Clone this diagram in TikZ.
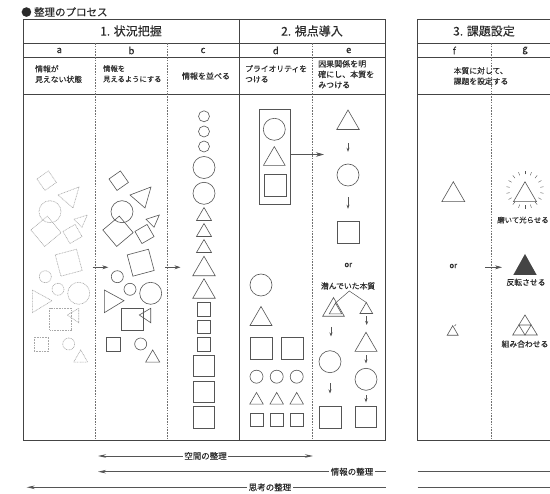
\documentclass[tikz,border=0pt]{standalone}
\usepackage{fontspec}
\setmainfont{Noto Sans CJK JP}[FakeBold=0.12]
\usetikzlibrary{arrows.meta,shapes.geometric}
\definecolor{ink}{HTML}{2A2A2A}
\definecolor{frm}{HTML}{444444}
\definecolor{shp}{HTML}{555555}
\definecolor{faint}{HTML}{A8A8A8}
\definecolor{sepc}{HTML}{707070}
\tikzset{
  tri/.pic={\draw (-0.5,0.433) -- (0.5,0.433) -- (0,-0.433) -- cycle;},
  sqr/.pic={\draw (-0.5,-0.5) rectangle (0.5,0.5);},
}
\newcommand\ShapeSet{%
  \pic[scale=14, rotate=35] at (46.7,180.7) {sqr};
  \draw (58,195) -- (79,187) -- (73,208) -- cycle;
  \draw (50,211.7) circle[radius=11];
  \pic[scale=21.5, rotate=40] at (46,231.3) {sqr};
  \draw (74,219.3) -- (87.3,215) -- (82,227.3) -- cycle;
  \pic[scale=14, rotate=30] at (72.5,234) {sqr};
  \pic[scale=22, rotate=15] at (68.7,262.7) {sqr};
  \draw (45.3,276.7) circle[radius=6];
  \draw (58,289.3) circle[radius=6];
  \draw (78.7,293.3) circle[radius=11];
  \draw (32.3,290) -- (32.3,312.7) -- (52,300.7) -- cycle;
  \pic[scale=21.7] at (60.5,319) {sqr};
  \draw (78.7,308.3) -- (78.7,322.7) -- (67.3,315) -- cycle;
  \pic[scale=14.5] at (41.3,344.3) {sqr};
  \draw (68.7,344) circle[radius=6];
  \pic[scale=14] at (80.7,356) {tri};
}
\begin{document}
\begin{tikzpicture}[x=1pt,y=-1pt,
  frame/.style={draw=frm, line width=0.9pt},
  sepline/.style={draw=sepc, line width=0.5pt, dash pattern=on 1.6pt off 1.2pt},
  shapea/.style={faint, line width=0.6pt, dash pattern=on 0.9pt off 0.7pt},
  shapeb/.style={shp, line width=0.6pt},
  txt/.style={text=ink, inner sep=0pt, font=\fontsize{7.8}{10.5}\selectfont},
  head/.style={text=ink, inner sep=0pt, font=\fontsize{12}{14}\selectfont},
  lab/.style={text=ink, inner sep=0pt, font=\fontsize{9.5}{11}\selectfont},
  blab/.style={text=ink, fill=white, inner sep=1.5pt, font=\fontsize{8.5}{10}\selectfont},
  sarr/.style={shp, line width=0.6pt, -{Stealth[length=4pt,width=3pt]}},
  larr/.style={shp, line width=0.7pt},
  cnode/.style={circle, draw=shp, line width=0.6pt, inner sep=0pt},
  snode/.style={rectangle, draw=shp, line width=0.6pt, inner sep=0pt},
  tnode/.style={regular polygon, regular polygon sides=3, draw=shp, line width=0.6pt, inner sep=0pt},
]
\clip (0,0) rectangle (550,494);
\fill[white] (0,0) rectangle (550,494);

% title
\node[anchor=west, text=ink, inner sep=0pt, font=\fontsize{10.5}{12}\selectfont] (title) at (21,12) {● 整理のプロセス};

% ---------- box 1 ----------
\draw[frame] (23,19) rectangle (385,440);
\draw[frame] (23,43) -- (385,43);
\draw[frame] (23,57.7) -- (385,57.7);
\draw[frame] (23,94.3) -- (385,94.3);
\draw[frame] (239,19) -- (239,440);
\draw[sepline] (95.7,43) -- (95.7,440);
\draw[sepline] (167.3,43) -- (167.3,440);
\draw[sepline] (312.5,43) -- (312.5,440);

% ---------- box 2 ----------
\draw[frame] (417.7,19) rectangle (560,440);
\draw[frame] (417.7,43) -- (560,43);
\draw[frame] (417.7,57.7) -- (560,57.7);
\draw[frame] (417.7,94.3) -- (560,94.3);
\draw[sepline] (491,43) -- (491,440);

% headers
\node[head] (h1) at (131,31) {1. 状況把握};
\node[head] (h2) at (312,31) {2. 視点導入};
\node[head] (h3) at (484,31) {3. 課題設定};
\node[lab] (la) at (59.3,50.5) {a};
\node[lab] (lb) at (131.5,50.5) {b};
\node[lab] (lc) at (203,50.5) {c};
\node[lab] (ld) at (275.8,50.5) {d};
\node[lab] (le) at (348.7,50.5) {e};
\node[lab] (lf) at (454.3,50.5) {f};
\node[lab] (lg) at (525,50.5) {g};

% descriptions
\node[txt, anchor=north west, align=left] (da) at (35,65) {情報が\\見えない状態};
\node[txt, anchor=north west, align=left, font=\fontsize{7.3}{10.5}\selectfont] (db) at (103,65) {情報を\\見えるようにする};
\node[txt, font=\fontsize{8}{10.5}\selectfont] (dc) at (206,76) {情報を並べる};
\node[txt, anchor=north west, align=left] (dd) at (245,65) {プライオリティを\\つける};
\node[txt, anchor=north west, align=left, font=\fontsize{8}{10.5}\selectfont] (de) at (318,60) {因果関係を明\\確にし、本質を\\みつける};
\node[txt, align=left] (dfg) at (481,76) {本質に対して、\\課題を設定する};

% ---------- column a / b ----------
\begin{scope}[shapea]
  \ShapeSet
\end{scope}
\begin{scope}[shapeb, xshift=72pt]
  \ShapeSet
\end{scope}
\coordinate (ab1) at (92.7,267.3);
\coordinate (ab2) at (108.3,267.3);
\coordinate (bc1) at (165,267.3);
\coordinate (bc2) at (180.5,267.3);
\draw[sarr, -{Stealth[length=6pt,width=4pt]}] (ab1) -- (ab2);
\draw[sarr, -{Stealth[length=6pt,width=4pt]}] (bc1) -- (bc2);

% ---------- column c ----------
\begin{scope}[shapeb]
  \foreach \yy in {116.3,131.5,146.5} \draw (204,\yy) circle[radius=5.5];
  \foreach \yy in {167.5,193.3} \draw (204,\yy) circle[radius=11];
  \foreach \yy in {214,230,246} \pic[scale=15] at (204,\yy) {tri};
  \foreach \yy in {266,288.5} \pic[scale=22.5] at (204,\yy) {tri};
  \foreach \yy in {309.3,327,344.3} \pic[scale=13.5] at (204,\yy) {sqr};
  \foreach \yy in {366,391.7,417.3} \pic[scale=21.5] at (204,\yy) {sqr};
\end{scope}

% ---------- column d ----------
\node[snode, minimum width=30.7pt, minimum height=95pt] (prio) at (274.7,156.8) {};
\begin{scope}[shapeb]
  \draw (274.3,129.3) circle[radius=11];
  \pic[scale=21.7] at (274.3,156) {tri};
  \pic[scale=21.7] at (275,185) {sqr};
  \draw (261,285) circle[radius=11];
  \pic[scale=22] at (261,316) {tri};
  \pic[scale=22] at (261.7,348.3) {sqr};
  \pic[scale=22] at (292.3,348.3) {sqr};
  \foreach \xx in {256.5,276.7,296.7} {
    \draw (\xx,376.7) circle[radius=6.5];
    \pic[scale=13.5] at (\xx,398.3) {tri};
    \pic[scale=13] at (\xx,420) {sqr};
  }
\end{scope}
\coordinate (pe) at (324,154.5);
\draw[sarr, -{Stealth[length=8pt,width=4.5pt]}] (prio.east |- pe) -- (pe);

% ---------- column e ----------
\node[tnode, minimum size=26pt] (et1) at (348,123) {};
\node[cnode, minimum size=22pt] (ec1) at (348,175) {};
\node[snode, minimum size=22pt] (es1) at (348.3,232) {};
\draw[sarr] ([yshift=-13.5pt]et1.south) -- ([yshift=-22pt]et1.south);
\draw[sarr] ([yshift=-11pt]ec1.south) -- ([yshift=-22.5pt]ec1.south);
\node[txt] (eor) at (348.3,265) {or};
\node[txt] (hid) at (348,286) {潜んでいた本質};
\begin{scope}[shapeb]
  \pic[scale=21.6] at (333.5,306.9) {tri};
  \pic[scale=12.5] at (335.5,308.5) {tri};
  \pic[scale=12.7] at (366.3,308) {tri};
\end{scope}
\draw[shp, line width=0.5pt] (335.5,303) -- (349.3,291) -- (366.3,302.5);
% left chain
\node[cnode, minimum size=22pt] (ec2) at (330,361.7) {};
\node[snode, minimum size=22pt] (es2) at (330,417.3) {};
\coordinate (l1a) at (331,327);
\coordinate (l1b) at (331,336.5);
\draw[sarr] (l1a) -- (l1b);
\draw[sarr] ([yshift=-10.5pt]ec2.south) -- ([yshift=-20.5pt]ec2.south);
% right chain
\node[tnode, minimum size=25.4pt] (et3) at (366,345) {};
\node[cnode, minimum size=22pt] (ec3) at (366,379.3) {};
\node[snode, minimum size=21pt] (es3) at (366,417.3) {};
\coordinate (r1a) at (366.7,316.5);
\coordinate (r1b) at (366.7,325);
\draw[sarr] (r1a) -- (r1b);
\draw[sarr] ([yshift=-3.5pt]et3.south) -- ([yshift=-11.8pt]et3.south);
\draw[sarr] ([yshift=-4.7pt]ec3.south) -- ([yshift=-11.7pt]ec3.south);

% ---------- columns f / g ----------
\begin{scope}[shapeb]
  \pic[scale=23] at (453.3,191.7) {tri};
  \pic[scale=23] at (525,191.7) {tri};
  \foreach \a in {-90,-70,...,250} \draw[line width=0.4pt] (525,190) ++(\a:15.5) -- ++(\a:3.5);
  \pic[scale=11] at (452.7,330.5) {tri};
  \draw[line width=0.4pt] (454.5,326) -- (456,324.5);
  % combined triangle
  \draw (512.7,335) -- (537.3,335) -- (525,315) -- cycle;
  \draw (518.85,325) -- (531.15,325) -- (525,335) -- cycle;
\end{scope}
\fill[frm] (513.3,275) -- (536.7,275) -- (525,254) -- cycle;
\node[txt, font=\fontsize{7.4}{9}\selectfont] (shine) at (523,220) {磨いて光らせる};
\node[txt] (f_or) at (453.3,266) {or};
\coordinate (fg1) at (485,267.3);
\coordinate (fg2) at (502,267.3);
\draw[sarr, -{Stealth[length=7pt,width=4pt]}] (fg1) -- (fg2);
\node[txt] (flip) at (526,282.3) {反転させる};
\node[txt] (comb) at (525,344) {組み合わせる};

% ---------- bottom arrows ----------
\coordinate (s1) at (98,456);
\coordinate (s2) at (313,456);
\draw[larr, {Stealth[length=8pt,width=3.5pt]}-{Stealth[length=8pt,width=3.5pt]}] (s1) -- (s2);
\node[blab] (space) at (205.5,456) {空間の整理};

\coordinate (i1) at (98,471.7);
\coordinate (i2) at (386,471.7);
\draw[larr, {Stealth[length=8pt,width=3.5pt]}-] (i1) -- (i2);
\node[blab] (info) at (352,471.7) {情報の整理};
\coordinate (i3) at (417.7,471.7);
\coordinate (i4) at (560,471.7);
\draw[larr] (i3) -- (i4);

\coordinate (t1) at (26.7,487.3);
\coordinate (t2) at (386,487.3);
\draw[larr, {Stealth[length=8pt,width=3.5pt]}-] (t1) -- (t2);
\node[blab] (think) at (270,487.3) {思考の整理};
\coordinate (t3) at (417.7,487.3);
\coordinate (t4) at (560,487.3);
\draw[larr] (t3) -- (t4);
\end{tikzpicture}
\end{document}
